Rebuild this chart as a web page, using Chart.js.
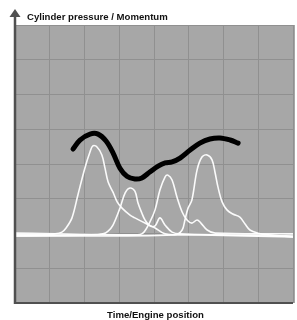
<!DOCTYPE html>
<html>
<head>
<meta charset="utf-8">
<script src="https://cdn.jsdelivr.net/npm/chart.js@4.4.1/dist/chart.umd.min.js"></script>
<style>
  html, body { margin: 0; padding: 0; background: #fff; }
  #wrap { width: 297px; height: 320px; }
</style>
</head>
<body>
<div id="wrap"><canvas id="myChart"></canvas></div>
<script>
var yTitle = 'Cylinder pressure / Momentum';
var xTitle = 'Time/Engine position';

// momentum (thick black curve), x = engine position, y = value
var momentumX = [1.67, 1.87, 2.16, 2.39, 2.62, 2.82, 3.02, 3.22, 3.45, 3.65, 3.88, 4.12, 4.32, 4.52, 4.75, 5.04, 5.32, 5.61, 5.90, 6.19, 6.42];
var momentumY = [4.43, 4.69, 4.86, 4.86, 4.66, 4.32, 3.88, 3.65, 3.57, 3.60, 3.77, 3.94, 4.03, 4.06, 4.17, 4.40, 4.60, 4.72, 4.75, 4.69, 4.60];

// cylinder pressure, one trace per cylinder
var cyl1X = [0, 0.72, 1.15, 1.35, 1.47, 1.64, 1.81, 2.01, 2.16, 2.24, 2.36, 2.50, 2.59, 2.68, 2.82, 2.94, 3.08, 3.31, 3.45, 3.74, 4.03, 4.32, 5.32, 8];
var cyl1Y = [1.96, 1.97, 1.99, 2.04, 2.16, 2.45, 3.11, 3.88, 4.35, 4.52, 4.49, 4.26, 3.88, 3.48, 3.19, 2.91, 2.73, 2.53, 2.45, 2.30, 2.16, 1.99, 1.96, 1.90];

var cyl2X = [0, 2.16, 2.53, 2.68, 2.82, 3.02, 3.17, 3.31, 3.45, 3.54, 3.65, 3.74, 3.88, 4.03, 4.17, 4.32, 4.52, 4.75, 8];
var cyl2Y = [1.93, 1.96, 1.99, 2.07, 2.24, 2.73, 3.17, 3.31, 3.22, 2.88, 2.59, 2.39, 2.22, 2.22, 2.45, 2.24, 2.04, 1.99, 1.93];

var cyl3X = [0, 3.45, 3.68, 3.88, 4.03, 4.17, 4.32, 4.40, 4.52, 4.66, 4.81, 4.95, 5.09, 5.24, 5.35, 5.53, 5.76, 8];
var cyl3Y = [2.01, 1.96, 2.01, 2.33, 2.68, 3.25, 3.63, 3.68, 3.54, 3.05, 2.62, 2.39, 2.30, 2.39, 2.30, 2.10, 2.01, 1.99];

var cyl4X = [0, 4.60, 4.81, 4.89, 4.98, 5.09, 5.24, 5.38, 5.53, 5.67, 5.76, 5.84, 5.96, 6.10, 6.27, 6.47, 6.62, 6.76, 6.99, 7.28, 8];
var cyl4Y = [1.93, 1.96, 2.10, 2.39, 2.73, 2.96, 3.83, 4.20, 4.26, 4.12, 3.74, 3.34, 2.91, 2.68, 2.56, 2.47, 2.27, 2.10, 2.01, 1.96, 1.90];

function toPoints(xs, ys) {
  var pts = [];
  for (var i = 0; i < xs.length; i++) pts.push({x: xs[i], y: ys[i]});
  return pts;
}

function whiteLine(xs, ys) {
  return {
    data: toPoints(xs, ys),
    borderColor: 'rgba(255,255,255,0.95)',
    borderWidth: 1.6,
    pointRadius: 0,
    tension: 0.35,
    fill: false
  };
}

// gray plot background + axis arrow + texts
const decor = {
  id: 'decor',
  beforeDraw(chart) {
    const c = chart.ctx, a = chart.chartArea;
    c.save();
    c.fillStyle = '#a7a7a7';
    c.fillRect(a.left, a.top, a.right - a.left + 2, a.bottom - a.top);
    c.restore();
  },
  afterDraw(chart) {
    const c = chart.ctx, a = chart.chartArea;
    c.save();
    c.strokeStyle = '#505050';
    c.lineWidth = 2.5;
    c.beginPath();
    c.moveTo(a.left, 15);
    c.lineTo(a.left, a.bottom + 1);
    c.stroke();
    c.lineWidth = 2;
    c.beginPath();
    c.moveTo(a.left, a.bottom);
    c.lineTo(a.right, a.bottom);
    c.stroke();
    c.fillStyle = '#505050';
    c.beginPath();
    c.moveTo(a.left, 9);
    c.lineTo(a.left - 5.5, 17);
    c.lineTo(a.left + 5.5, 17);
    c.closePath();
    c.fill();

    c.fillStyle = '#111';
    c.font = 'bold 9.6px "Liberation Sans", Arial, sans-serif';
    c.textBaseline = 'alphabetic';
    c.textAlign = 'left';
    c.fillText(yTitle, 27, 20);
    c.textAlign = 'center';
    c.fillText(xTitle, 155.5, 317.5);
    c.restore();
  }
};

const ctx = document.getElementById('myChart');
const myChart = new Chart(ctx, {
  type: 'line',
  data: {
    datasets: [
      {
        data: toPoints(momentumX, momentumY),
        borderColor: '#000',
        borderWidth: 5,
        borderCapStyle: 'round',
        pointRadius: 0,
        tension: 0.35,
        fill: false
      },
      whiteLine(cyl1X, cyl1Y),
      whiteLine(cyl2X, cyl2Y),
      whiteLine(cyl3X, cyl3Y),
      whiteLine(cyl4X, cyl4Y)
    ]
  },
  options: {
    responsive: true,
    maintainAspectRatio: false,
    animation: false,
    events: [],
    layout: { padding: { left: 15, right: 4, top: 25, bottom: 17 } },
    plugins: {
      legend: { display: false },
      tooltip: { enabled: false }
    },
    scales: {
      x: {
        type: 'linear', min: 0, max: 8,
        ticks: { display: false, stepSize: 1 },
        grid: { color: '#909090', lineWidth: 1, drawTicks: false },
        border: { display: false }
      },
      y: {
        type: 'linear', min: 0, max: 8,
        ticks: { display: false, stepSize: 1 },
        grid: { color: '#909090', lineWidth: 1, drawTicks: false },
        border: { display: false }
      }
    }
  },
  plugins: [decor]
});
</script>
</body>
</html>
